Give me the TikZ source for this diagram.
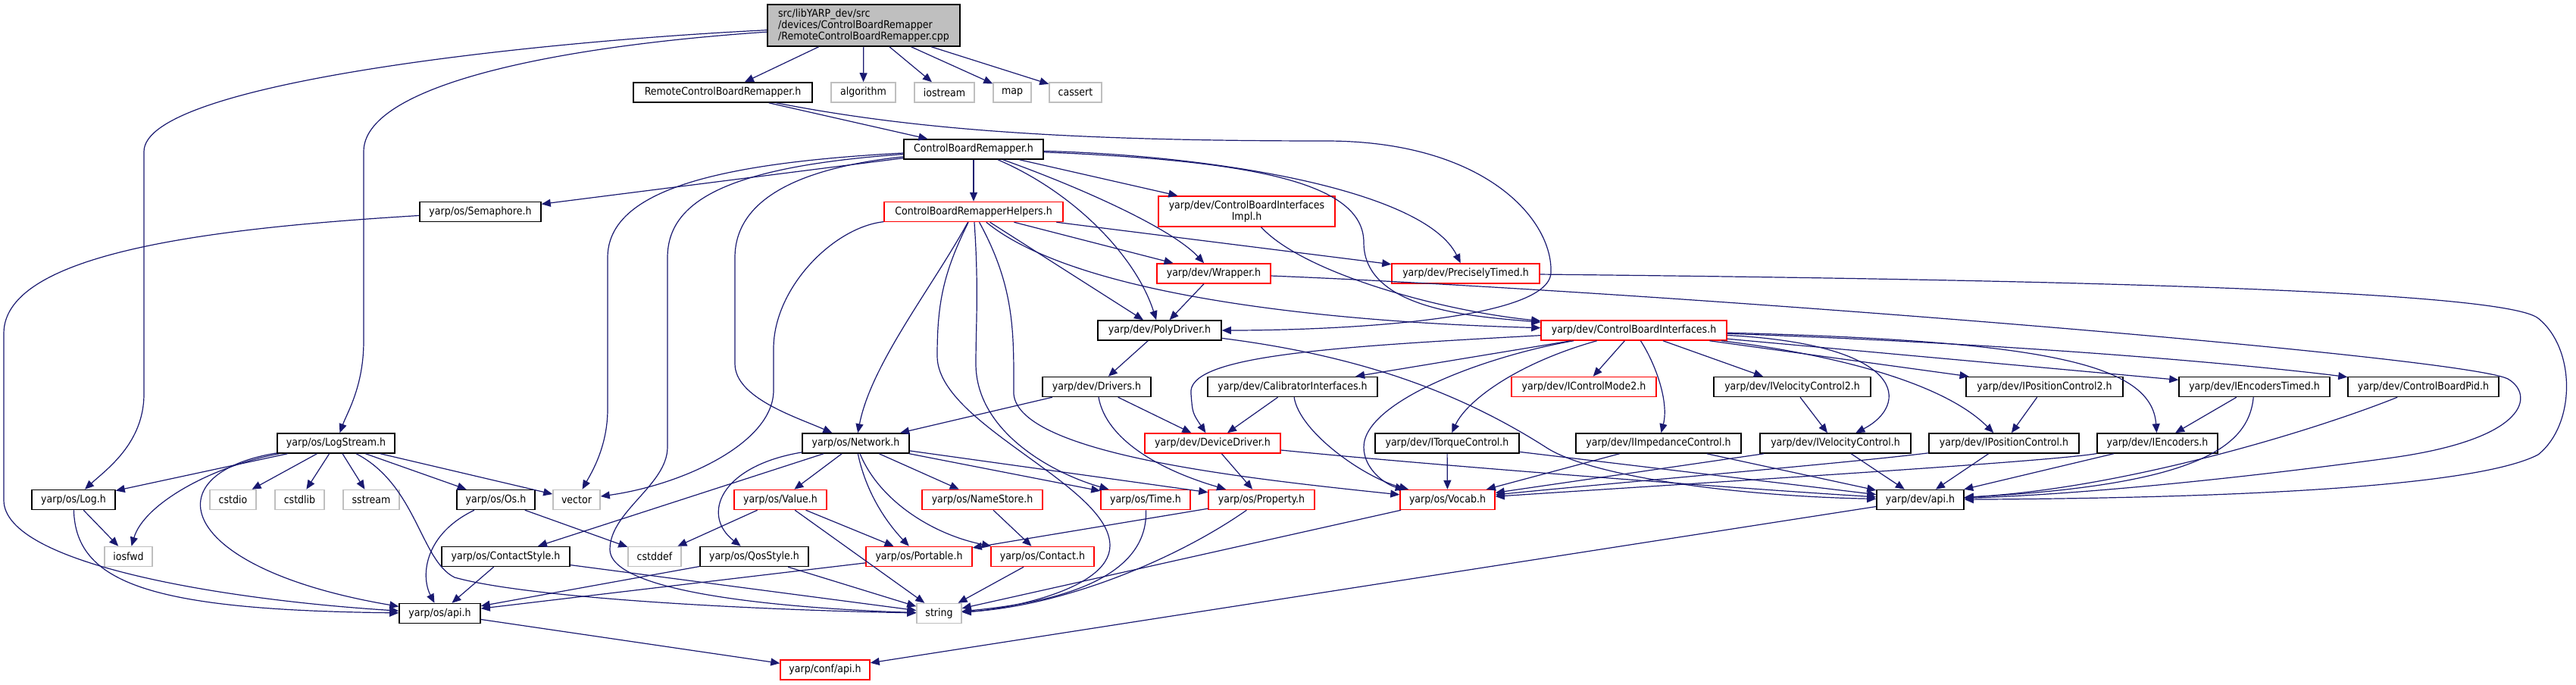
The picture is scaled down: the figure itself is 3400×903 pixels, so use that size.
\documentclass[tikz,border=0pt]{standalone}
\usepackage{fontspec}
\setmainfont{DejaVu Sans Condensed}
\usetikzlibrary{arrows.meta}

\definecolor{edgeblue}{HTML}{191970}
\definecolor{sysgray}{HTML}{BFBFBF}

\tikzset{
  hdr/.style={draw=black, line width=1.5pt, fill=white, inner sep=0pt,
    minimum height=26pt, font=\fontsize{14}{15}\selectfont},
  hdrred/.style={hdr, draw=red},
  hdrsys/.style={hdr, draw=sysgray},
  dep/.style={draw=edgeblue, line width=1.2pt, -{Triangle[length=12pt,width=10pt]}},
}

\begin{document}
\begin{tikzpicture}[x=1pt,y=1pt]
    \useasboundingbox (0,0) rectangle (3400,-903);

    % Source file
    \node[hdr, fill=sysgray, minimum width=254pt, minimum height=55pt, align=left] (main) at (1140,-33.5)
        {src/libYARP\_dev/src\\/devices/ControlBoardRemapper\\/RemoteControlBoardRemapper.cpp};

    % Row 1
    \node[hdr, minimum width=236pt] (remote) at (954,-122) {RemoteControlBoardRemapper.h};
    \node[hdrsys, minimum width=85pt] (algorithm) at (1139.5,-122) {algorithm};
    \node[hdrsys, minimum width=79pt] (iostream) at (1246.5,-122) {iostream};
    \node[hdrsys, minimum width=50pt] (map) at (1336,-122) {map};
    \node[hdrsys, minimum width=69pt] (cassert) at (1419.5,-122) {cassert};

    % Row 2 and 3
    \node[hdr, minimum width=184pt] (cbr) at (1285,-197) {ControlBoardRemapper.h};
    \node[hdr, minimum width=160pt] (semaphore) at (634,-279.5) {yarp/os/Semaphore.h};
    \node[hdrred, minimum width=236pt] (helpers) at (1285,-279.5) {ControlBoardRemapperHelpers.h};
    \node[hdrred, minimum width=233pt, minimum height=40pt, align=center] (impl) at (1645.5,-279)
        {yarp/dev/ControlBoardInterfaces\\Impl.h};

    % Row 4 and 5
    \node[hdrred, minimum width=150pt] (wrapper) at (1602,-361) {yarp/dev/Wrapper.h};
    \node[hdrred, minimum width=195pt] (timed) at (1934.5,-361) {yarp/dev/PreciselyTimed.h};
    \node[hdr, minimum width=163pt] (poly) at (1530.5,-436) {yarp/dev/PolyDriver.h};
    \node[hdrred, minimum width=245pt] (cbi) at (2156.5,-436) {yarp/dev/ControlBoardInterfaces.h};

    % Row 6
    \node[hdr, minimum width=143pt] (drivers) at (1447.5,-510.5) {yarp/dev/Drivers.h};
    \node[hdr, minimum width=224pt] (calib) at (1706,-510.5) {yarp/dev/CalibratorInterfaces.h};
    \node[hdrred, minimum width=191pt] (mode2) at (2090.5,-510.5) {yarp/dev/IControlMode2.h};
    \node[hdr, minimum width=207pt] (velocity2) at (2365.5,-510.5) {yarp/dev/IVelocityControl2.h};
    \node[hdr, minimum width=207pt] (position2) at (2698.5,-510.5) {yarp/dev/IPositionControl2.h};
    \node[hdr, minimum width=199pt] (enctimed) at (2975.5,-510.5) {yarp/dev/IEncodersTimed.h};
    \node[hdr, minimum width=199pt] (pid) at (3198.5,-510.5) {yarp/dev/ControlBoardPid.h};

    % Row 7
    \node[hdr, minimum width=155pt] (logstream) at (443.5,-585) {yarp/os/LogStream.h};
    \node[hdr, minimum width=141pt] (network) at (1129.5,-585) {yarp/os/Network.h};
    \node[hdrred, minimum width=179pt] (devdriver) at (1600.5,-585) {yarp/dev/DeviceDriver.h};
    \node[hdr, minimum width=190pt] (torque) at (1910,-585) {yarp/dev/ITorqueControl.h};
    \node[hdr, minimum width=218pt] (impedance) at (2189,-585) {yarp/dev/IImpedanceControl.h};
    \node[hdr, minimum width=199pt] (velocity) at (2422.5,-585) {yarp/dev/IVelocityControl.h};
    \node[hdr, minimum width=198pt] (position) at (2645,-585) {yarp/dev/IPositionControl.h};
    \node[hdr, minimum width=159pt] (encoders) at (2847.5,-585) {yarp/dev/IEncoders.h};

    % Row 8
    \node[hdr, minimum width=110pt] (log) at (97,-659.5) {yarp/os/Log.h};
    \node[hdrsys, minimum width=61pt] (cstdio) at (307.5,-659.5) {cstdio};
    \node[hdrsys, minimum width=65pt] (cstdlib) at (395.5,-659.5) {cstdlib};
    \node[hdrsys, minimum width=74pt] (sstream) at (490,-659.5) {sstream};
    \node[hdr, minimum width=103pt] (os) at (654.5,-659.5) {yarp/os/Os.h};
    \node[hdrsys, minimum width=62pt] (vector) at (761,-659.5) {vector};
    \node[hdrred, minimum width=122pt] (value) at (1030,-659.5) {yarp/os/Value.h};
    \node[hdrred, minimum width=159pt] (namestore) at (1296.5,-659.5) {yarp/os/NameStore.h};
    \node[hdrred, minimum width=118pt] (time) at (1512,-659.5) {yarp/os/Time.h};
    \node[hdrred, minimum width=140pt] (property) at (1665,-659.5) {yarp/os/Property.h};
    \node[hdrred, minimum width=125pt] (vocab) at (1910.5,-659.5) {yarp/os/Vocab.h};
    \node[hdr, minimum width=115pt] (devapi) at (2534.5,-659.5) {yarp/dev/api.h};

    % Row 9
    \node[hdrsys, minimum width=63pt] (iosfwd) at (169.5,-734.5) {iosfwd};
    \node[hdr, minimum width=169pt] (contactstyle) at (667.5,-734.5) {yarp/os/ContactStyle.h};
    \node[hdrsys, minimum width=70pt] (cstddef) at (864,-734.5) {cstddef};
    \node[hdr, minimum width=143pt] (qos) at (995.5,-734.5) {yarp/os/QosStyle.h};
    \node[hdrred, minimum width=140pt] (portable) at (1213,-734.5) {yarp/os/Portable.h};
    \node[hdrred, minimum width=136pt] (contact) at (1376,-734.5) {yarp/os/Contact.h};

    % Row 10 and 11
    \node[hdr, minimum width=107pt] (osapi) at (580.5,-809.5) {yarp/os/api.h};
    \node[hdrsys, minimum width=59pt] (string) at (1239.5,-809.5) {string};
    \node[hdrred, minimum width=118pt] (confapi) at (1089,-884) {yarp/conf/api.h};

    % Source file includes
    \draw[dep] (main) -- (remote);
    \draw[dep] (main) -- (algorithm);
    \draw[dep] (main) -- (iostream);
    \draw[dep] (main) -- (map);
    \draw[dep] (main) -- (cassert);
    \draw[dep] (main) .. controls (700,-55) and (190,-110) .. (190,-200) -- (190,-520)
        .. controls (190,-585) and (140,-620) .. (log);
    \draw[dep] (main) .. controls (720,-62) and (480,-115) .. (480,-200) -- (480,-450)
        .. controls (480,-510) and (458,-545) .. (logstream);

    % RemoteControlBoardRemapper.h
    \draw[dep] (remote) -- (cbr);
    \draw[dep] (remote) .. controls (1200,-170) and (1400,-186) .. (1750,-186)
        .. controls (1960,-186) and (2050,-290) .. (2047,-360)
        .. controls (2044,-425) and (1750,-436) .. (poly);

    % ControlBoardRemapper.h
    \draw[dep] (cbr) -- (helpers);
    \draw[dep] (cbr) -- (impl);
    \draw[dep] (cbr) .. controls (1420,-245) and (1545,-300) .. (wrapper);
    \draw[dep] (cbr) .. controls (1420,-255) and (1500,-340) .. (poly);
    \draw[dep] (cbr) .. controls (1600,-205) and (1880,-250) .. (timed);
    \draw[dep] (cbr) .. controls (1650,-212) and (1800,-240) .. (1800,-320)
        .. controls (1800,-410) and (1950,-418) .. (cbi);
    \draw[dep] (cbr) -- (semaphore);
    \draw[dep] (cbr) .. controls (950,-215) and (802,-250) .. (802,-340) -- (802,-540)
        .. controls (802,-590) and (780,-625) .. (vector);
    \draw[dep] (cbr) .. controls (1050,-222) and (970,-265) .. (970,-340) -- (970,-480)
        .. controls (970,-525) and (1050,-550) .. (network);
    \draw[dep] (cbr) .. controls (960,-220) and (881,-265) .. (881,-340) -- (881,-590)
        .. controls (881,-640) and (805,-675) .. (805,-725)
        .. controls (805,-790) and (1100,-805) .. (string);

    % ControlBoardRemapperHelpers.h
    \draw[dep] (helpers) .. controls (1100,-300) and (1021,-380) .. (1021,-460) -- (1021,-515)
        .. controls (1021,-585) and (900,-640) .. (vector);
    \draw[dep] (helpers) .. controls (1230,-380) and (1150,-480) .. (network);
    \draw[dep] (helpers) .. controls (1245,-360) and (1237,-400) .. (1237,-470)
        .. controls (1237,-560) and (1465,-640) .. (1465,-720)
        .. controls (1465,-780) and (1320,-805) .. (string);
    \draw[dep] (helpers) .. controls (1292,-380) and (1288,-430) .. (1288,-480)
        .. controls (1288,-570) and (1390,-625) .. (time);
    \draw[dep] (helpers) .. controls (1340,-380) and (1338,-440) .. (1338,-520)
        .. controls (1345,-600) and (1650,-632) .. (vocab);
    \draw[dep] (helpers) -- (poly);
    \draw[dep] (helpers) -- (wrapper);
    \draw[dep] (helpers) -- (timed);
    \draw[dep] (helpers) .. controls (1420,-390) and (1750,-425) .. (cbi);

    % Semaphore, Wrapper, PreciselyTimed, PolyDriver
    \draw[dep] (semaphore) .. controls (300,-300) and (5,-330) .. (5,-440) -- (5,-660)
        .. controls (5,-745) and (300,-792) .. (osapi);
    \draw[dep] (impl) .. controls (1720,-360) and (1900,-410) .. (cbi);
    \draw[dep] (wrapper) -- (poly);
    \draw[dep] (wrapper) .. controls (2200,-385) and (3250,-470) .. (3310,-500)
        .. controls (3345,-520) and (3340,-580) .. (3150,-605)
        .. controls (2950,-632) and (2750,-652) .. (devapi);
    \draw[dep] (timed) .. controls (2600,-368) and (3300,-380) .. (3350,-420)
        .. controls (3400,-460) and (3400,-560) .. (3350,-600)
        .. controls (3250,-652) and (2800,-658) .. (devapi);
    \draw[dep] (poly) -- (drivers);
    \draw[dep] (poly) .. controls (1800,-470) and (1930,-520) .. (2040,-590)
        .. controls (2100,-630) and (2300,-655) .. (devapi);

    % Drivers, CalibratorInterfaces, DeviceDriver
    \draw[dep] (drivers) -- (network);
    \draw[dep] (drivers) -- (devdriver);
    \draw[dep] (drivers) .. controls (1460,-580) and (1530,-620) .. (property);
    \draw[dep] (calib) -- (devdriver);
    \draw[dep] (calib) .. controls (1715,-570) and (1800,-630) .. (vocab);
    \draw[dep] (devdriver) -- (property);
    \draw[dep] (devdriver) .. controls (1900,-615) and (2300,-645) .. (devapi);

    % ControlBoardInterfaces.h
    \draw[dep] (cbi) .. controls (1750,-458) and (1565,-470) .. (1572,-520)
        .. controls (1574,-545) .. (devdriver);
    \draw[dep] (cbi) -- (calib);
    \draw[dep] (cbi) -- (mode2);
    \draw[dep] (cbi) -- (velocity2);
    \draw[dep] (cbi) .. controls (2185,-480) and (2203,-530) .. (impedance);
    \draw[dep] (cbi) .. controls (2000,-480) and (1935,-530) .. (torque);
    \draw[dep] (cbi) .. controls (1960,-470) and (1800,-530) .. (1800,-590)
        .. controls (1800,-620) and (1830,-640) .. (vocab);
    \draw[dep] (cbi) .. controls (2520,-455) and (2520,-535) .. (velocity);
    \draw[dep] (cbi) -- (position2);
    \draw[dep] (cbi) .. controls (2400,-465) and (2560,-500) .. (position);
    \draw[dep] (cbi) .. controls (2700,-450) and (2840,-480) .. (encoders);
    \draw[dep] (cbi) -- (enctimed);
    \draw[dep] (cbi) .. controls (2700,-455) and (3000,-485) .. (pid);

    % Device interfaces
    \draw[dep] (velocity2) -- (velocity);
    \draw[dep] (position2) -- (position);
    \draw[dep] (enctimed) -- (encoders);
    \draw[dep] (enctimed) .. controls (2968,-590) and (2900,-640) .. (devapi);
    \draw[dep] (pid) .. controls (3050,-570) and (2800,-645) .. (devapi);
    \draw[dep] (encoders) .. controls (2700,-610) and (2200,-640) .. (vocab);
    \draw[dep] (encoders) -- (devapi);
    \draw[dep] (position) .. controls (2450,-610) and (2100,-640) .. (vocab);
    \draw[dep] (position) -- (devapi);
    \draw[dep] (velocity) -- (vocab);
    \draw[dep] (velocity) -- (devapi);
    \draw[dep] (impedance) -- (vocab);
    \draw[dep] (impedance) -- (devapi);
    \draw[dep] (torque) -- (vocab);
    \draw[dep] (torque) -- (devapi);

    % Network.h
    \draw[dep] (network) -- (value);
    \draw[dep] (network) .. controls (950,-615) and (925,-680) .. (qos);
    \draw[dep] (network) -- (contactstyle);
    \draw[dep] (network) .. controls (1145,-660) and (1180,-700) .. (portable);
    \draw[dep] (network) .. controls (1160,-660) and (1230,-705) .. (contact);
    \draw[dep] (network) -- (namestore);
    \draw[dep] (network) -- (time);
    \draw[dep] (network) -- (property);

    % os headers
    \draw[dep] (value) -- (cstddef);
    \draw[dep] (value) -- (portable);
    \draw[dep] (value) -- (string);
    \draw[dep] (namestore) -- (contact);
    \draw[dep] (time) .. controls (1515,-740) and (1450,-790) .. (string);
    \draw[dep] (property) -- (portable);
    \draw[dep] (property) .. controls (1550,-740) and (1400,-800) .. (string);
    \draw[dep] (portable) -- (osapi);
    \draw[dep] (contact) -- (string);
    \draw[dep] (qos) -- (osapi);
    \draw[dep] (qos) -- (string);
    \draw[dep] (contactstyle) -- (osapi);
    \draw[dep] (contactstyle) -- (string);
    \draw[dep] (os) .. controls (560,-705) and (555,-760) .. (osapi);
    \draw[dep] (os) -- (cstddef);
    \draw[dep] (vocab) -- (string);

    % LogStream.h and Log.h
    \draw[dep] (log) -- (iosfwd);
    \draw[dep] (log) .. controls (100,-770) and (200,-805) .. (osapi);
    \draw[dep] (logstream) -- (log);
    \draw[dep] (logstream) .. controls (280,-615) and (190,-665) .. (iosfwd);
    \draw[dep] (logstream) -- (cstdio);
    \draw[dep] (logstream) -- (cstdlib);
    \draw[dep] (logstream) -- (sstream);
    \draw[dep] (logstream) -- (os);
    \draw[dep] (logstream) -- (vector);
    \draw[dep] (logstream) .. controls (200,-625) and (230,-750) .. (osapi);
    \draw[dep] (logstream) .. controls (550,-640) and (555,-740) .. (600,-762)
        .. controls (700,-790) and (1000,-805) .. (string);

    % api headers
    \draw[dep] (osapi) -- (confapi);
    \draw[dep] (devapi) -- (confapi);
\end{tikzpicture}
\end{document}
